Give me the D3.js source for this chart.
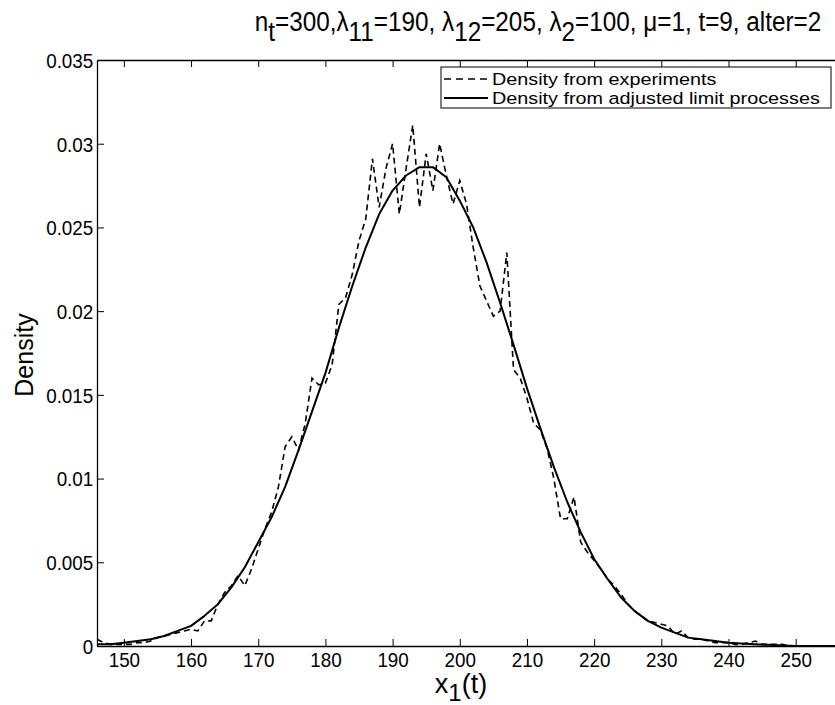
<!DOCTYPE html>
<html>
<head>
<meta charset="utf-8">
<script src="https://cdn.jsdelivr.net/npm/d3@7"></script>
<style>
  body { margin: 0; background: #fff; }
  text { font-family: "Liberation Sans", Arial, Helvetica, sans-serif; fill: #000; }
</style>
</head>
<body>
<div id="container"></div>
<script>
// experimental density, one value per unit of x_1(t)
const xExp = [146,147,148,149,150,151,152,153,154,155,156,157,158,159,160,161,162,163,164,165,166,167,168,169,170,
  171,172,173,174,175,176,177,178,179,180,181,182,183,184,185,186,187,188,189,190,191,192,193,194,195,196,197,198,199,200,
  201,202,203,204,205,206,207,208,209,210,211,212,213,214,215,216,217,218,219,220,221,222,223,224,225,226,227,228,229,230,
  231,232,233,234,235,236,237,238,239,240,241,242,243,244,245,246,247,248,249,250,251,252,253,254,255,256];
const densExp = [0.0004,0.0002,0.0001,0.0001,0.0001,0.0001,0.0002,0.0002,0.0003,0.0005,0.0006,0.0007,0.0008,0.0009,0.0010,
  0.0009,0.0015,0.0015,0.0025,0.0032,0.0036,0.0042,0.0036,0.0046,0.0058,
  0.0070,0.0080,0.0095,0.0119,0.0125,0.0117,0.0133,0.0160,0.0156,0.0157,0.0168,0.0204,0.0208,0.0222,0.0242,0.0255,0.0291,0.0262,0.0285,0.0300,
  0.0258,0.0285,0.0311,0.0262,0.0294,0.0272,0.0300,0.0281,0.0264,0.0278,
  0.0264,0.0238,0.0215,0.0206,0.0197,0.0200,0.0235,0.0165,0.0160,0.0148,0.0133,0.0129,0.0118,0.0100,0.0076,0.0076,0.0089,0.0062,0.0056,0.0051,
  0.0046,0.0040,0.0036,0.0031,0.0025,0.0021,0.0018,0.0015,0.0014,0.0013,0.0012,0.0007,0.0009,0.0005,0.0004,0.0004,0.0003,0.0002,0.0002,0.0002,
  0.0001,0.0001,0.0002,0.0003,0.0001,0.0001,0.0001,0.0001,0,0,0,0,0,0,0,0];

// density from the adjusted limit processes
const xFit = [146,148,150,152,154,156,158,160,162,164,166,168,170,172,174,176,178,180,182,184,186,188,190,192,194,196,198,200,
  202,204,206,208,210,212,214,216,218,220,222,224,226,228,230,232,234,236,238,240,244,250,256];
const densFit = [0.0001,0.0001,0.0002,0.0003,0.0004,0.0006,0.0009,0.0012,0.0018,0.0025,0.0035,0.0047,0.0062,0.0077,0.0095,0.0117,
  0.0140,0.0163,0.0190,0.0215,0.0238,0.0258,0.0272,0.0281,0.0286,0.0286,0.0280,0.0266,0.0250,0.0229,0.0205,0.0180,0.0154,0.0130,
  0.0107,0.0086,0.0068,0.0052,0.0040,0.0029,0.0021,0.0015,0.0011,0.0008,0.0005,0.0004,0.0003,0.0002,0.0001,0,0];

const xTicks = [150,160,170,180,190,200,210,220,230,240,250];
const yTicks = [0,0.005,0.01,0.015,0.02,0.025,0.03,0.035];
const yTickLabels = ["0","0.005","0.01","0.015","0.02","0.025","0.03","0.035"];
const legendLabels = ["Density from experiments","Density from adjusted limit processes"];

const W = 835, H = 705;
const margin = {top: 60, left: 97, bottom: 59, right: -1};
const width = W - margin.left - margin.right,
      height = H - margin.top - margin.bottom;

const svg = d3.select("#container").append("svg")
  .attr("width", W).attr("height", H);

const plot = svg.append("g")
  .attr("transform", "translate(" + margin.left + "," + margin.top + ")");

const x = d3.scaleLinear().domain([146, 256]).range([0, width]);
const y = d3.scaleLinear().domain([0, 0.035]).range([height, 0]);

svg.append("defs").append("clipPath").attr("id", "clip")
  .append("rect").attr("width", width).attr("height", height);

// axes, ticks pointing inward like matlab
const tickLen = 7;
const xAxis = plot.append("g").attr("transform", "translate(0," + height + ")")
  .call(d3.axisBottom(x).tickValues(xTicks).tickSizeInner(-tickLen).tickSizeOuter(0).tickPadding(6));
const xAxisTop = plot.append("g")
  .call(d3.axisTop(x).tickValues(xTicks).tickSizeInner(-tickLen).tickSizeOuter(0).tickFormat(""));
const yAxis = plot.append("g")
  .call(d3.axisLeft(y).tickValues(yTicks).tickSizeInner(-tickLen).tickSizeOuter(0).tickPadding(4)
    .tickFormat((d, i) => yTickLabels[i]));

[xAxis, xAxisTop, yAxis].forEach(a => {
  a.select(".domain").attr("stroke", "#000").attr("stroke-width", 1.3);
  a.selectAll(".tick line").attr("stroke", "#000").attr("stroke-width", 1);
  a.selectAll(".tick text").attr("font-size", 20.5)
    .attr("font-family", "Liberation Sans, Arial, sans-serif")
    .attr("transform", "scale(0.92,1)");
});
yAxis.selectAll(".tick text").attr("dy", "0.36em");

const line = d3.line().x(d => x(d[0])).y(d => y(d[1]));

const lines = plot.append("g").attr("clip-path", "url(#clip)");

lines.append("path")
  .attr("d", line(xExp.map((v, i) => [v, densExp[i]])))
  .attr("fill", "none").attr("stroke", "#000")
  .attr("stroke-width", 1.6).attr("stroke-dasharray", "6,4");

lines.append("path")
  .attr("d", line(xFit.map((v, i) => [v, densFit[i]])))
  .attr("fill", "none").attr("stroke", "#000")
  .attr("stroke-width", 2).attr("stroke-linejoin", "round");

// legend
const legend = svg.append("g").attr("transform", "translate(441,67)");
legend.append("rect").attr("width", 390).attr("height", 41)
  .attr("fill", "#fff").attr("stroke", "#000").attr("stroke-width", 1);
legendLabels.forEach((lab, i) => {
  const yy = 12 + i * 19;
  legend.append("line").attr("x1", 3).attr("x2", 47).attr("y1", yy).attr("y2", yy)
    .attr("stroke", "#000").attr("stroke-width", i ? 2 : 1.6)
    .attr("stroke-dasharray", i ? null : "7,5");
  legend.append("text")
    .attr("transform", "translate(51," + (yy + 6) + ") scale(1.2,1)")
    .attr("font-size", 16.5).text(lab);
});

// title, slightly condensed like the original rendering
const title = svg.append("text")
  .attr("transform", "translate(538,31) scale(0.9,1)")
  .attr("text-anchor", "middle").attr("font-size", 27);
const parts = [["n",0],["t",1],["=300,λ",0],["11",1],["=190, λ",0],["12",1],["=205, λ",0],["2",1],["=100, μ=1, t=9, alter=2",0]];
let prevSub = 0;
parts.forEach(p => {
  const shift = (p[1] - prevSub) * 10;
  title.append("tspan").attr("dy", shift).text(p[0]);
  prevSub = p[1];
});

// axis labels
const xl = svg.append("text").attr("x", 461).attr("y", 693)
  .attr("text-anchor", "middle").attr("font-size", 27);
xl.append("tspan").text("x");
xl.append("tspan").attr("dy", 8).attr("font-size", 24).text("1");
xl.append("tspan").attr("dy", -8).text("(t)");

svg.append("text")
  .attr("transform", "translate(33," + (margin.top + height / 2 + 2) + ") rotate(-90)")
  .attr("text-anchor", "middle").attr("font-size", 25).text("Density");
</script>
</body>
</html>
